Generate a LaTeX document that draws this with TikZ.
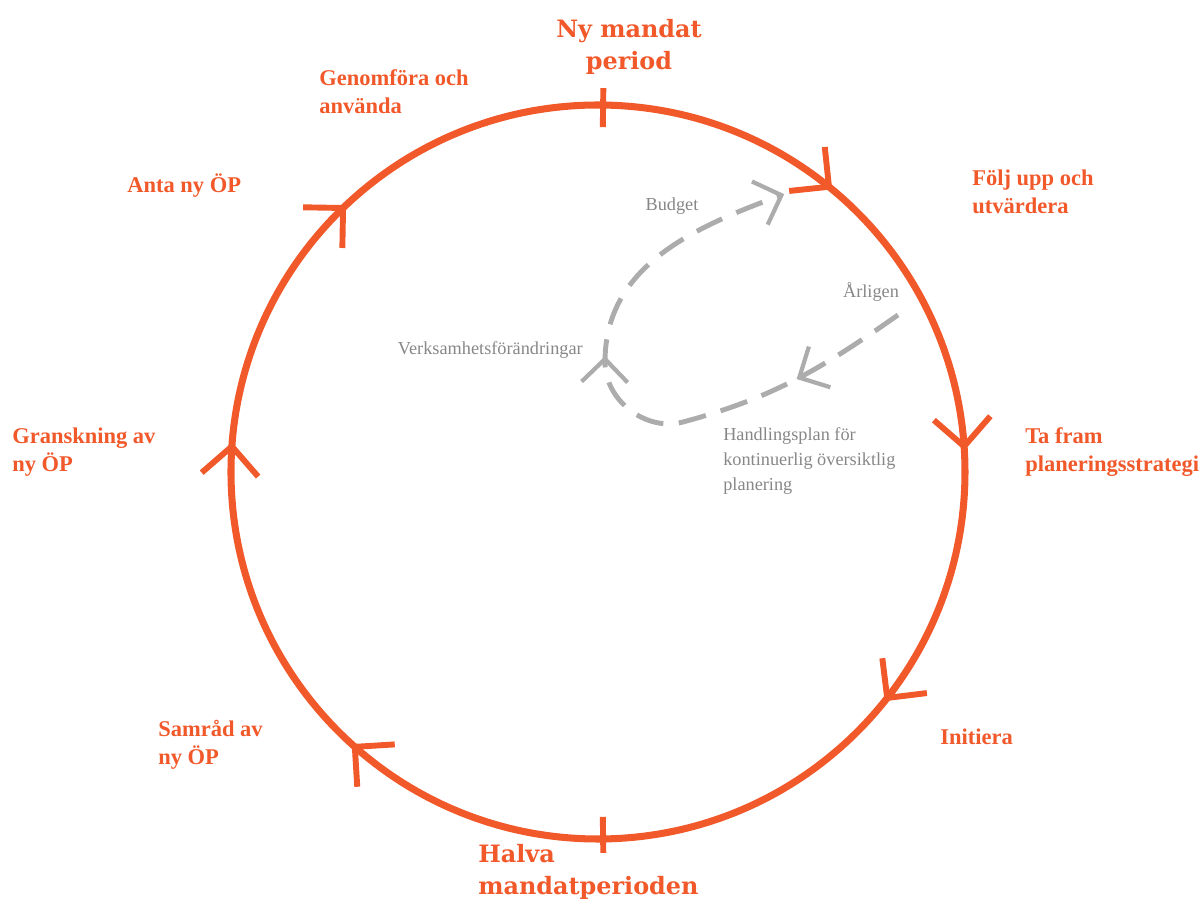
\documentclass[tikz,border=0pt]{standalone}
\usepackage{fontspec}
\setmainfont{Liberation Serif}
\newfontfamily\slabfont{DejaVu Serif}[BoldFont={DejaVu Serif Bold}]
\usepackage{xcolor}
\usetikzlibrary{decorations.markings}

\definecolor{cykel}{RGB}{241,88,42}
\definecolor{streck}{RGB}{172,172,172}
\definecolor{gratext}{RGB}{135,135,135}

\begin{document}
\begin{tikzpicture}[x=0.025cm, y=0.025cm,
	cykel/.style={draw=cykel, line width=5pt},
	pil/.style={draw=cykel, line width=4.2pt},
	fas/.style={text=cykel, font=\fontsize{16}{20}\selectfont\bfseries, align=left, anchor=base west, inner sep=0pt},
	milstolpe/.style={text=cykel, font=\slabfont\bfseries\fontsize{17}{22.8}\selectfont, inner sep=0pt},
	notis/.style={text=gratext, font=\fontsize{13}{17.8}\selectfont, inner sep=0pt},
	slinga/.style={draw=streck, line width=3.5pt, dash pattern=on 20pt off 11pt},
	hake/.style={draw=streck, line width=3pt, solid}]

	\useasboundingbox (-598,-428) rectangle (601,472);

	% the cycle
	\draw [cykel] (0,0) circle (367);
	\draw [pil] (89.2:345) -- (89.2:384);
	\draw [pil] (270.8:345) -- (270.8:381);

	\foreach \a in {51,4,-38,-131.5,176,134}
	{
		\draw [pil] ([shift={(\a:367)}]\a+45:40) -- (\a:367) -- ([shift={(\a:367)}]\a+135:40);
	}

	% yearly loop
	\draw [slinga, postaction={decorate}, decoration={markings,
			mark=at position 0.19 with {\draw [hake] (-23,23) -- (0,0) -- (-23,-23);},
			mark=at position 0.58 with {\draw [hake] (-23,23) -- (0,0) -- (-23,-23);},
			mark=at position 0.999 with {\draw [hake] (-23,23) -- (0,0) -- (-23,-23);}}]
		(300,157) to[out=215,in=15] (85,50) to[out=195,in=270] (7,110) to[out=90,in=200] (184,277);

	% milestones (base = last line)
	\node [milstolpe, align=center, anchor=base] (nymandat) at (31,402) {Ny mandat\\period};
	\node [milstolpe, align=left, anchor=base west] (halva) at (-120,-423) {Halva\\mandatperioden};

	% phases
	\node [fas] (folj) at (374,258) {Följ upp och\\utvärdera};
	\node [fas] (tafram) at (427,0) {Ta fram\\planeringsstrategi};
	\node [fas] (initiera) at (342,-273) {Initiera};
	\node [fas] (samrad) at (-440,-293) {Samråd av\\ny ÖP};
	\node [fas] (granskning) at (-586,0) {Granskning av\\ny ÖP};
	\node [fas] (anta) at (-471,279) {Anta ny ÖP};
	\node [fas] (genomfora) at (-279,358) {Genomföra och\\använda};

	% notes on the loop
	\node [notis, anchor=base] (budget) at (74,261) {Budget};
	\node [notis, anchor=base] (arligen) at (273,174) {Årligen};
	\node [notis, anchor=base east] (verksamhet) at (-15,117) {Verksamhetsförändringar};
	\node [notis, align=left, anchor=base west] (handling) at (125,-19) {Handlingsplan för\\kontinuerlig översiktlig\\planering};
\end{tikzpicture}
\end{document}
